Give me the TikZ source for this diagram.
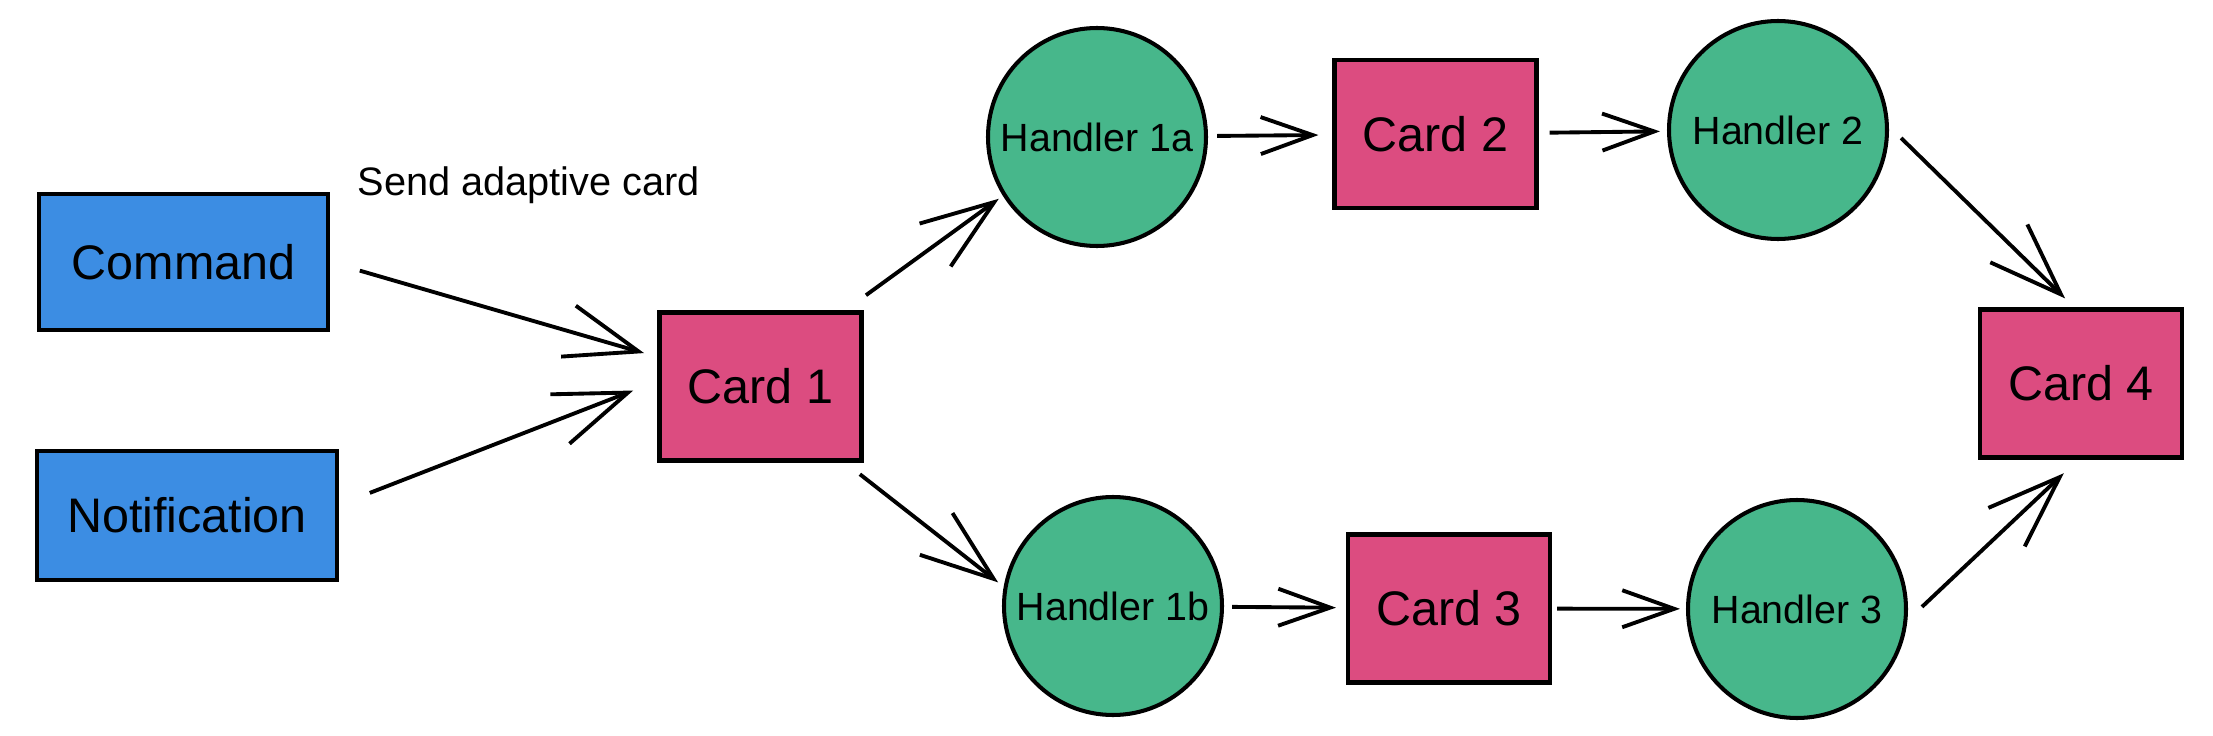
\documentclass[tikz,border=0pt]{standalone}
\usepackage{fontspec}
\setmainfont{Liberation Sans}
\usetikzlibrary{arrows.meta}
\definecolor{SourceBlue}{HTML}{3C8DE3}
\definecolor{CardPink}{HTML}{DC4C80}
\definecolor{HandlerGreen}{HTML}{47B78B}

\begin{document}
\begin{tikzpicture}[
    source/.style={
        rectangle, draw=black, line width=1.15pt,
        fill=SourceBlue, font=\fontsize{13.8}{16}\selectfont,
        inner sep=0pt
    },
    card/.style={
        rectangle, draw=black, line width=1.15pt,
        fill=CardPink, minimum width=2.02cm, minimum height=1.48cm,
        font=\fontsize{13.8}{16}\selectfont, inner sep=0pt
    },
    handler/.style={
        circle, draw=black, line width=1.15pt,
        fill=HandlerGreen, minimum size=2.18cm, inner sep=0pt,
        font=\fontsize{11.2}{13}\selectfont
    },
    annot/.style={font=\fontsize{11.3}{13}\selectfont, anchor=base},
    arr/.style={-{Straight Barb[length=7.3mm, width=5.3mm]}, line width=1.1pt},
    arrs/.style={-{Straight Barb[length=5.2mm, width=3.7mm]}, line width=1.1pt}
]
\useasboundingbox (0,0) rectangle (22.13,-7.36);

% ===================================================================
% SOURCES
% ===================================================================
\node[source, minimum width=2.89cm, minimum height=1.36cm] (cmd)
    at (1.835,-2.62) {Command};
\node[source, minimum width=3.00cm, minimum height=1.29cm] (note)
    at (1.87,-5.155) {Notification};

\node[annot] (sendlbl) at (5.29,-1.95) {Send adaptive card};

% ===================================================================
% CARDS
% ===================================================================
\node[card] (card1) at (7.605,-3.865) {Card 1};
\node[card] (card2) at (14.355,-1.34) {Card 2};
\node[card] (card3) at (14.49,-6.085) {Card 3};
\node[card] (card4) at (20.81,-3.835) {Card 4};

% ===================================================================
% HANDLERS
% ===================================================================
\node[handler] (h1a) at (10.97,-1.37) {Handler 1a};
\node[handler] (h2) at (17.78,-1.30) {Handler 2};
\node[handler] (h1b) at (11.13,-6.06) {Handler 1b};
\node[handler] (h3) at (17.97,-6.09) {Handler 3};

% ===================================================================
% CONNECTORS
% ===================================================================
\draw[arr, shorten <=0.31cm, shorten >=0.14cm] (cmd.east) -- (card1.164);
\draw[arr, shorten <=0.33cm, shorten >=0.26cm] (note.4) -- (card1.177);

% upper branch
\draw[arr, shorten <=0.26cm, shorten >=0.05cm] (card1.42) -- (h1a.212);
\draw[arrs, shorten <=0.09cm, shorten >=0.14cm] (h1a) -- (card2);
\draw[arrs, shorten <=0.11cm, shorten >=0.07cm] (card2) -- (h2);
\draw[arr, shorten <=0.17cm, shorten >=0.13cm] (h2.2) -- (card4.95);

% lower branch
\draw[arr, shorten <=0.19cm, shorten >=0.07cm] (card1.-42) -- (h1b.170);
\draw[arrs, shorten <=0.08cm, shorten >=0.10cm] (h1b) -- (card3);
\draw[arrs, shorten <=0.05cm, shorten >=0.06cm] (card3) -- (h3);
\draw[arr, shorten <=0.20cm, shorten >=0.20cm] (h3.-6) -- (card4.-92);

\end{tikzpicture}
\end{document}
